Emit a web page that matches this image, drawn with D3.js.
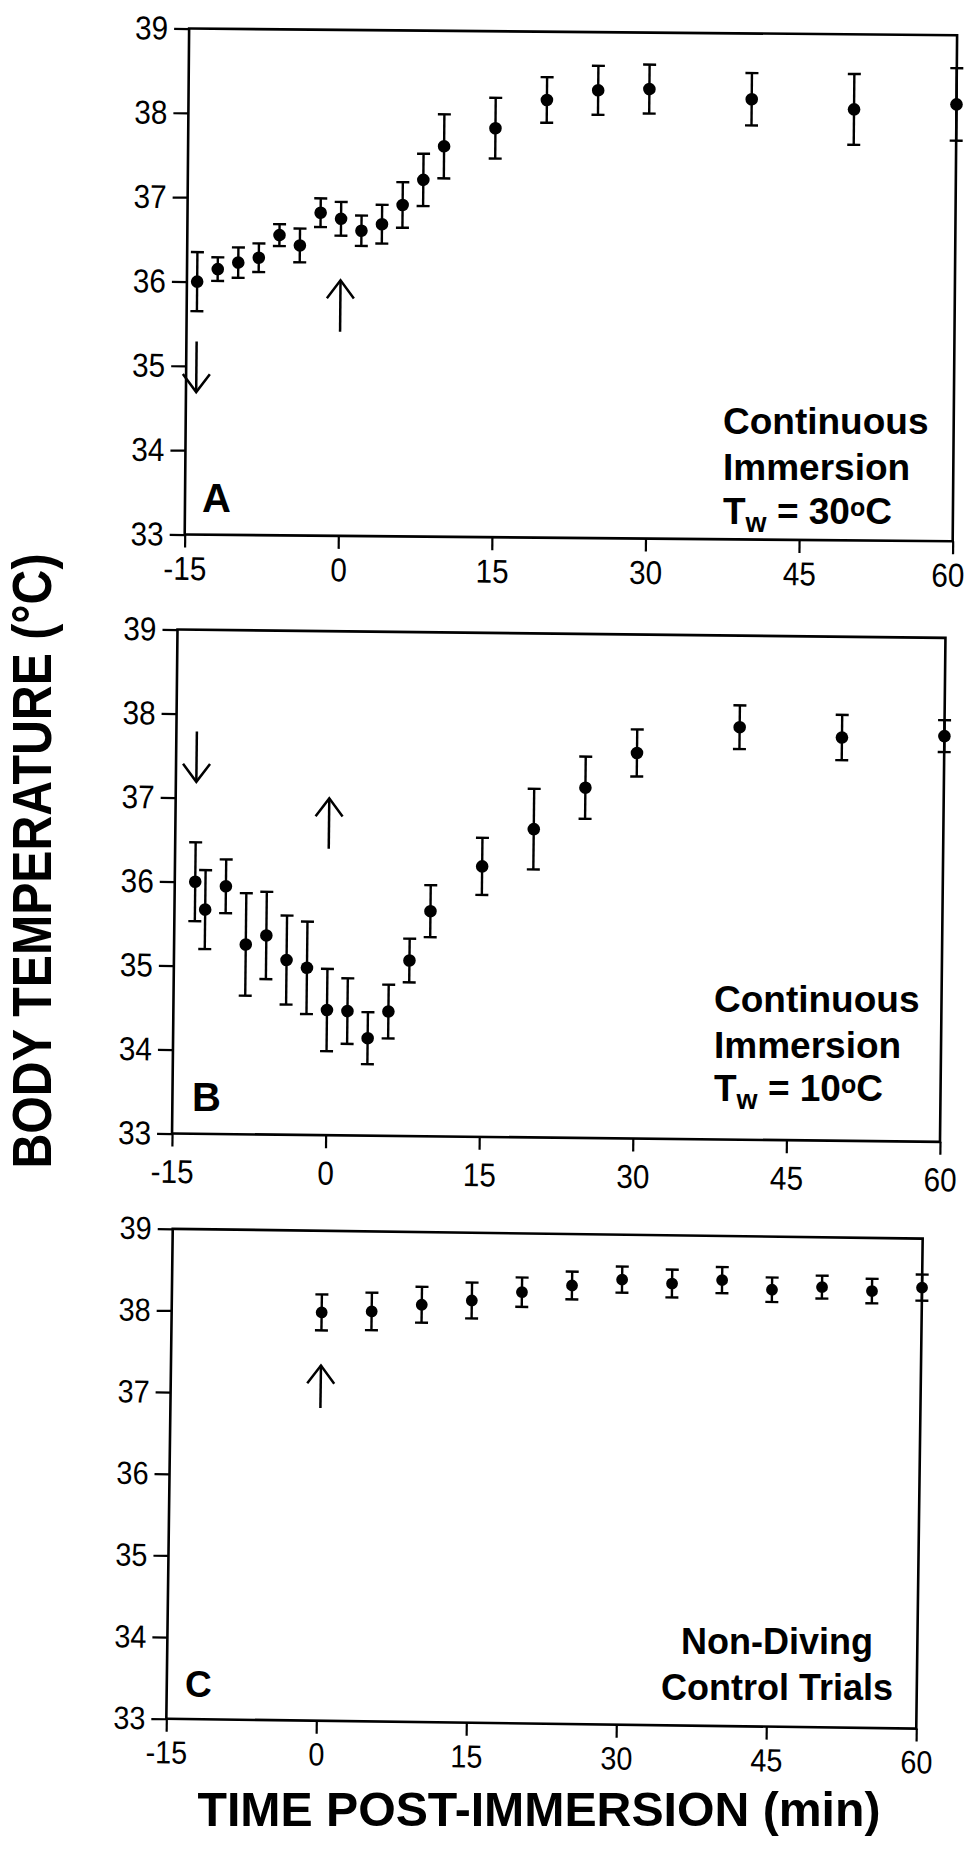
<!DOCTYPE html>
<html>
<head>
<meta charset="utf-8">
<script src="https://cdn.jsdelivr.net/npm/d3@7"></script>
<style>
  body { margin: 0; background: #fff; }
  svg { display: block; }
</style>
</head>
<body>
<svg id="chart" width="970" height="1858"></svg>
<script>
// ---------------- DATA ----------------
const xTicks = [-15, 0, 15, 30, 45, 60];
const yTicks = [33, 34, 35, 36, 37, 38, 39];

// Panel A: continuous immersion, Tw = 30 C
const timeA = [-14, -12, -10, -8, -6, -4, -2, 0, 2, 4, 6, 8, 10, 15, 20, 25, 30, 40, 50, 60];
const tempA = [36.00, 36.15, 36.23, 36.29, 36.56, 36.44, 36.83, 36.76, 36.62, 36.70, 36.93, 37.23, 37.63, 37.85, 38.19, 38.31, 38.33, 38.22, 38.11, 38.18];
const semA  = [0.35, 0.14, 0.18, 0.17, 0.13, 0.20, 0.17, 0.20, 0.18, 0.23, 0.27, 0.31, 0.38, 0.36, 0.27, 0.29, 0.29, 0.31, 0.42, 0.43];

// Panel B: continuous immersion, Tw = 10 C
const timeB = [-13, -12, -10, -8, -6, -4, -2, 0, 2, 4, 6, 8, 10, 15, 20, 25, 30, 40, 50, 60];
const tempB = [36.00, 35.67, 35.95, 35.26, 35.37, 35.08, 34.99, 34.49, 34.48, 34.16, 34.48, 35.09, 35.68, 36.22, 36.67, 37.17, 37.59, 37.91, 37.80, 37.83];
const semB  = [0.47, 0.47, 0.32, 0.61, 0.52, 0.53, 0.55, 0.49, 0.39, 0.31, 0.32, 0.26, 0.31, 0.34, 0.48, 0.37, 0.28, 0.26, 0.27, 0.19];

// Panel C: non-diving control trials
const timeC = [0, 5, 10, 15, 20, 25, 30, 35, 40, 45, 50, 55, 60];
const tempC = [38.00, 38.02, 38.11, 38.17, 38.28, 38.37, 38.45, 38.41, 38.46, 38.35, 38.39, 38.35, 38.40];
const semC  = [0.22, 0.23, 0.22, 0.22, 0.18, 0.17, 0.16, 0.17, 0.16, 0.15, 0.14, 0.15, 0.16];

// Arrows (time, tail value, tip value)
const arrowTimeA = [-14, 0];
const arrowTailA = [35.29, 35.42];
const arrowTipA  = [34.69, 36.03];
const arrowTimeB = [-13, 0];
const arrowTailB = [37.79, 36.41];
const arrowTipB  = [37.19, 37.01];
const arrowTimeC = [0];
const arrowTailC = [36.83];
const arrowTipC  = [37.35];

const panelLetters = ["A", "B", "C"];
const noteA = ["Continuous", "Immersion"];
const noteB = ["Continuous", "Immersion"];
const noteC = ["Non-Diving", "Control Trials"];
const waterTemp = ["30", "10"];

// ---------------- LAYOUT ----------------
const FONT = "'Liberation Sans', Arial, Helvetica, sans-serif";
const svg = d3.select("#chart");

const panels = [
  { time: timeA, temp: tempA, sem: semA, aT: arrowTimeA, aF: arrowTailA, aE: arrowTipA,
    box: { l: 186.9, r: 954.9, t: 31.9, b: 537.9 }, rot: 0.5, tickFs: 33, pad: 9, r: 6.3 },
  { time: timeB, temp: tempB, sem: semB, aT: arrowTimeB, aF: arrowTailB, aE: arrowTipB,
    box: { l: 174.75, r: 942.75, t: 633.7, b: 1137.7 }, rot: 0.62, tickFs: 33, pad: 13, r: 6.3 },
  { time: timeC, temp: tempC, sem: semC, aT: arrowTimeC, aF: arrowTailC, aE: arrowTipC,
    box: { l: 169.5, r: 919.5, t: 1233.7, b: 1723.7 }, rot: 0.75, tickFs: 32, pad: 9, r: 5.9 }
];

panels.forEach(p => {
  const { l, r, t, b } = p.box;
  const cx = (l + r) / 2, cy = (t + b) / 2;
  const g = svg.append("g").attr("transform", `rotate(${p.rot},${cx},${cy})`);

  const x = d3.scaleLinear().domain([-15, 60]).range([l, r]);
  const y = d3.scaleLinear().domain([33, 39]).range([b, t]);

  // frame
  g.append("rect")
    .attr("x", l).attr("y", t).attr("width", r - l).attr("height", b - t)
    .attr("fill", "none").attr("stroke", "#000").attr("stroke-width", 2.6);

  const fmt = d => String(d);
  // y axis
  const ya = g.append("g").attr("transform", `translate(${l},0)`)
    .call(d3.axisLeft(y).tickValues(yTicks).tickSize(15).tickPadding(6).tickFormat(fmt));
  ya.select(".domain").remove();
  // x axis
  const xa = g.append("g").attr("transform", `translate(0,${b})`)
    .call(d3.axisBottom(x).tickValues(xTicks).tickSize(13).tickPadding(p.pad).tickFormat(fmt));
  xa.select(".domain").remove();

  [ya, xa].forEach(a => {
    a.selectAll("line").attr("stroke", "#000").attr("stroke-width", 2.2);
    a.selectAll("text").attr("font-family", FONT).attr("font-size", p.tickFs).attr("fill", "#000");
  });
  // slightly condensed numerals, as in the scanned figure
  [ya, xa].forEach(a => {
    a.selectAll("text").each(function () {
      const w = this.getComputedTextLength();
      d3.select(this).attr("textLength", w * 0.9).attr("lengthAdjust", "spacingAndGlyphs");
    });
  });
  // keep the right-most x label inside the page
  xa.selectAll(".tick text").filter(d => d === 60 && r > 950).attr("dx", -5);

  const data = p.time.map((tm, i) => ({ t: tm, v: p.temp[i], e: p.sem[i] }));

  // error bars
  const eb = g.append("g").attr("stroke", "#000").attr("stroke-width", 2.4);
  data.forEach(d => {
    const xx = x(d.t);
    eb.append("line").attr("x1", xx).attr("x2", xx).attr("y1", y(d.v - d.e)).attr("y2", y(d.v + d.e));
    eb.append("line").attr("x1", xx - 6.5).attr("x2", xx + 6.5).attr("y1", y(d.v + d.e)).attr("y2", y(d.v + d.e));
    eb.append("line").attr("x1", xx - 6.5).attr("x2", xx + 6.5).attr("y1", y(d.v - d.e)).attr("y2", y(d.v - d.e));
  });

  // points
  g.append("g").selectAll("circle").data(data).join("circle")
    .attr("cx", d => x(d.t)).attr("cy", d => y(d.v)).attr("r", p.r).attr("fill", "#000");

  // arrows
  p.aT.forEach((tm, i) => {
    const ax = x(tm), y0 = y(p.aF[i]), y1 = y(p.aE[i]);
    const dir = Math.sign(y1 - y0);
    g.append("line").attr("x1", ax).attr("x2", ax).attr("y1", y0).attr("y2", y1)
      .attr("stroke", "#000").attr("stroke-width", 2.5);
    g.append("path")
      .attr("d", `M${ax - 13.5},${y1 - dir * 18}L${ax},${y1}L${ax + 13.5},${y1 - dir * 18}`)
      .attr("fill", "none").attr("stroke", "#000").attr("stroke-width", 2.5);
  });
});

// ---------------- ANNOTATIONS ----------------
function bold(xp, yp, txt, fs, anchor) {
  return svg.append("text").attr("x", xp).attr("y", yp)
    .attr("font-family", FONT).attr("font-weight", "bold").attr("font-size", fs)
    .attr("text-anchor", anchor || "start").attr("fill", "#000").text(txt);
}
function twLine(xp, yp, val) {
  const t = svg.append("text").attr("x", xp).attr("y", yp)
    .attr("font-family", FONT).attr("font-weight", "bold").attr("font-size", 37).attr("fill", "#000");
  t.append("tspan").text("T");
  t.append("tspan").attr("font-size", 27).attr("dy", 8).text("w");
  t.append("tspan").attr("dy", -8).text(" = " + val);
  t.append("tspan").attr("font-size", 25).attr("dy", -8).text("o");
  t.append("tspan").attr("dy", 8).text("C");
}

bold(202, 512, panelLetters[0], 40);
bold(192, 1111, panelLetters[1], 40);
bold(185, 1697, panelLetters[2], 37);

bold(723, 434, noteA[0], 37);
bold(723, 480, noteA[1], 37);
twLine(723, 524, waterTemp[0]);

bold(714, 1012, noteB[0], 37);
bold(714, 1058, noteB[1], 37);
twLine(714, 1101, waterTemp[1]);

bold(777, 1654, noteC[0], 36, "middle");
bold(777, 1700, noteC[1], 36, "middle");

// axis titles
svg.append("text")
  .attr("transform", "translate(51,861) rotate(-90)")
  .attr("text-anchor", "middle")
  .attr("font-family", FONT).attr("font-weight", "bold").attr("font-size", 56)
  .attr("textLength", 615).attr("lengthAdjust", "spacingAndGlyphs")
  .text("BODY TEMPERATURE (°C)");

svg.append("text")
  .attr("x", 539).attr("y", 1826)
  .attr("text-anchor", "middle")
  .attr("font-family", FONT).attr("font-weight", "bold").attr("font-size", 49)
  .attr("textLength", 683).attr("lengthAdjust", "spacingAndGlyphs")
  .text("TIME POST-IMMERSION (min)");
</script>
</body>
</html>
